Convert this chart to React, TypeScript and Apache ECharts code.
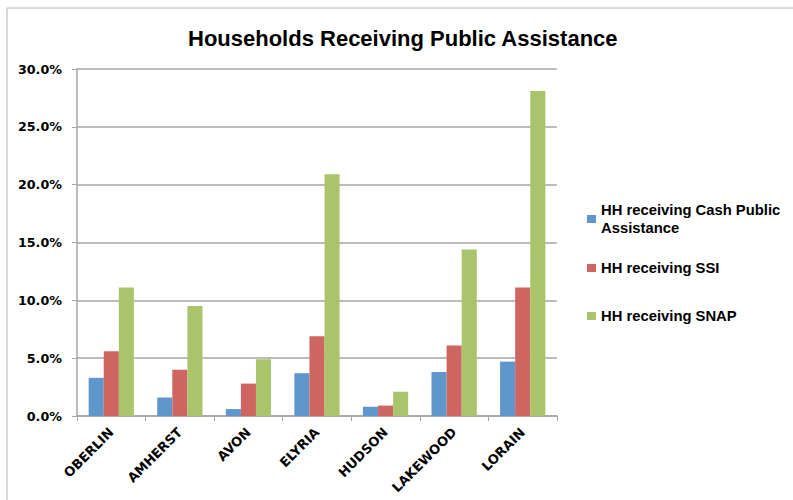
import React, { useEffect, useRef } from "react";
import * as echarts from "echarts";

const categories = ["OBERLIN", "AMHERST", "AVON", "ELYRIA", "HUDSON", "LAKEWOOD", "LORAIN"];
const cashPublicAssistance = [3.3, 1.6, 0.6, 3.7, 0.8, 3.8, 4.7];
const ssi = [5.6, 4.0, 2.8, 6.9, 0.9, 6.1, 11.1];
const snap = [11.1, 9.5, 4.9, 20.9, 2.1, 14.4, 28.1];
const seriesNames = [
  "HH receiving Cash Public Assistance",
  "HH receiving SSI",
  "HH receiving SNAP",
];
const colors = ["#5F96CC", "#CF6560", "#AAC46C"];

export default function App() {
  const ref = useRef<HTMLDivElement>(null);
  useEffect(() => {
    if (!ref.current) return;
    const chart = echarts.init(ref.current, undefined, { renderer: "svg" });
    const legendText = {
      fontFamily: "Liberation Sans",
      fontWeight: "bold" as const,
      fontSize: 14.8,
      color: "#000",
      lineHeight: 18,
    };
    const legendBase = {
      orient: "vertical" as const,
      left: 587,
      padding: 0,
      itemWidth: 9,
      itemHeight: 8,
      icon: "rect",
    };
    chart.setOption({
      animation: false,
      backgroundColor: "#fff",
      graphic: [
        {
          type: "rect",
          shape: { x: 7, y: 8, width: 820, height: 520 },
          style: { fill: "none", stroke: "#b4b4b4", lineWidth: 1 },
          silent: true,
        },
      ],
      title: {
        text: "Households Receiving Public Assistance",
        left: 188,
        top: 27,
        padding: 0,
        textStyle: {
          fontFamily: "Liberation Sans",
          fontWeight: "bold",
          fontSize: 22,
          color: "#000",
        },
      },
      legend: [
        {
          ...legendBase,
          top: 192,
          data: [seriesNames[0]],
          formatter: () => "HH receiving Cash Public\nAssistance",
          textStyle: { ...legendText, padding: [18, 0, 0, 0] },
        },
        { ...legendBase, top: 259, data: [seriesNames[1]], textStyle: legendText },
        { ...legendBase, top: 307, data: [seriesNames[2]], textStyle: legendText },
      ],
      grid: { left: 77, right: 236, top: 69, bottom: 84, containLabel: false },
      xAxis: {
        type: "category",
        data: categories,
        axisLine: { show: true, lineStyle: { color: "#a6a6a6", width: 1.5 } },
        axisTick: { show: true, length: 5, lineStyle: { color: "#a6a6a6" } },
        axisLabel: {
          rotate: 45,
          margin: 14,
          interval: 0,
          fontFamily: "DejaVu Sans",
          fontWeight: "bold",
          fontSize: 13,
          color: "#000",
        },
      },
      yAxis: {
        type: "value",
        min: 0,
        max: 30,
        interval: 5,
        axisLine: { show: true, lineStyle: { color: "#a6a6a6", width: 1.5 } },
        axisTick: { show: true, length: 5, lineStyle: { color: "#a6a6a6" } },
        splitLine: { show: true, lineStyle: { color: "#a6a6a6", width: 1.5 } },
        axisLabel: {
          margin: 15,
          fontFamily: "DejaVu Sans",
          fontWeight: "bold",
          fontSize: 12.7,
          color: "#000",
          formatter: (v: number) => v.toFixed(1) + "%",
        },
      },
      series: [cashPublicAssistance, ssi, snap].map((d, i) => ({
        name: seriesNames[i],
        type: "bar",
        data: d,
        barGap: "0%",
        barCategoryGap: "34%",
        itemStyle: { color: colors[i] },
      })),
    });
    return () => chart.dispose();
  }, []);
  return (
    <div
      ref={ref}
      style={{ position: "fixed", left: 0, top: 0, width: 793, height: 500 }}
    />
  );
}
